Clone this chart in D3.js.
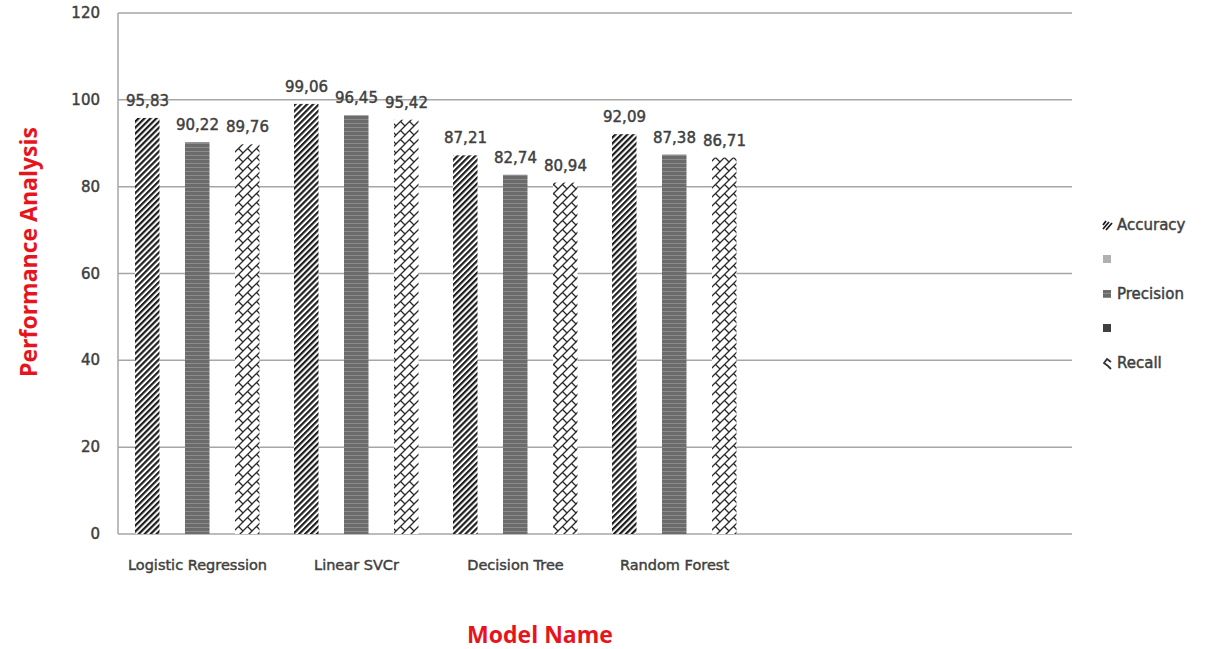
<!DOCTYPE html>
<html>
<head>
<meta charset="utf-8">
<script src="https://cdn.jsdelivr.net/npm/d3@7"></script>
<style>
  html, body { margin: 0; padding: 0; background: #fff; }
  svg { display: block; }
  .lbl { stroke: #404040; stroke-width: 0.45px; }
</style>
</head>
<body>
<svg id="chart" width="1208" height="649"></svg>
<script>
// ---------- data ----------
const categories = ["Logistic Regression", "Linear SVCr", "Decision Tree", "Random Forest", "", " "];
const seriesNames = ["Accuracy", "", "Precision", " ", "Recall"];
const accuracy  = [95.83, 99.06, 87.21, 92.09];
const blankA    = [];
const precision = [90.22, 96.45, 82.74, 87.38];
const blankB    = [];
const recall    = [89.76, 95.42, 80.94, 86.71];
const yTicks = [0, 20, 40, 60, 80, 100, 120];
const seriesValues = [accuracy, blankA, precision, blankB, recall];
const fmt = v => v.toFixed(2).replace(".", ",");

(function () {
// ---------- layout ----------
const svg = d3.select("#chart");
const pLeft = 118, pRight = 1072, pTop = 13, pBottom = 534;
const textColor = "#404040";
const font = "'DejaVu Sans', sans-serif";

// patterns
const defs = svg.append("defs");
const pA = defs.append("pattern").attr("id", "pAcc").attr("patternUnits", "userSpaceOnUse")
  .attr("width", 4.2).attr("height", 4.2).attr("patternTransform", "rotate(45)");
pA.append("rect").attr("width", 4.2).attr("height", 4.2).attr("fill", "#fff");
pA.append("rect").attr("width", 2.2).attr("height", 4.2).attr("fill", "#1e1e1e");

const pP = defs.append("pattern").attr("id", "pPrec").attr("patternUnits", "userSpaceOnUse")
  .attr("width", 4).attr("height", 4);
pP.append("rect").attr("width", 4).attr("height", 4).attr("fill", "#6b6b6b");
pP.append("rect").attr("y", 3).attr("width", 4).attr("height", 1).attr("fill", "#8c8c8c");

const pR = defs.append("pattern").attr("id", "pRec").attr("patternUnits", "userSpaceOnUse")
  .attr("width", 9).attr("height", 9);
pR.append("rect").attr("width", 9).attr("height", 9).attr("fill", "#fff");
pR.append("path").attr("d", "M-1,10 L10,-1 M4.5,4.5 L9.5,9.5 M-0.5,-0.5 L0.5,0.5")
  .attr("stroke", "#2a2a2a").attr("stroke-width", 1.3).attr("fill", "none");

const fills = ["url(#pAcc)", "#b0b0b0", "url(#pPrec)", "#404040", "url(#pRec)"];

// scales
const x0 = d3.scaleBand().domain(categories).range([pLeft, pRight]).paddingInner(0.214).paddingOuter(0.107);
const x1 = d3.scaleBand().domain(d3.range(seriesNames.length)).range([0, x0.bandwidth()]).padding(0);
const y = d3.scaleLinear().domain([0, 120]).range([pBottom, pTop]);

// gridlines
svg.append("g").selectAll("line").data(yTicks).join("line")
  .attr("x1", pLeft).attr("x2", pRight)
  .attr("y1", d => y(d)).attr("y2", d => y(d))
  .attr("stroke", "#a6a6a6").attr("stroke-width", 1.5);

// y axis line
svg.append("line").attr("x1", pLeft).attr("x2", pLeft).attr("y1", y(120)).attr("y2", y(0))
  .attr("stroke", "#a6a6a6").attr("stroke-width", 1.5);

// y tick labels
svg.append("g").selectAll("text").data(yTicks).join("text")
  .attr("class", "lbl")
  .attr("x", pLeft - 18).attr("y", d => y(d) + 5)
  .attr("text-anchor", "end")
  .attr("font-family", font).attr("font-size", 15).attr("fill", textColor)
  .text(d => d);

// bars
const bars = svg.append("g");
seriesValues.forEach((vals, si) => {
  bars.append("g").selectAll("rect").data(vals).join("rect")
    .attr("x", (d, i) => x0(categories[i]) + x1(si))
    .attr("width", x1.bandwidth() - 0.5)
    .attr("y", d => y(d))
    .attr("height", d => y(0) - y(d))
    .attr("fill", fills[si]);
  bars.append("g").selectAll("text").data(vals).join("text")
    .attr("class", "lbl")
    .attr("x", (d, i) => x0(categories[i]) + x1(si) + x1.bandwidth() / 2)
    .attr("y", d => y(d) - 12)
    .attr("text-anchor", "middle")
    .attr("font-family", font).attr("font-size", 15).attr("fill", textColor)
    .text(d => fmt(d));
});

// category labels
svg.append("g").selectAll("text").data(categories).join("text")
  .attr("class", "lbl")
  .attr("x", d => x0(d) + x0.bandwidth() / 2)
  .attr("y", 570)
  .attr("text-anchor", "middle")
  .attr("font-family", font).attr("font-size", 14.5).attr("fill", textColor)
  .text(d => d.trim());

// axis titles
svg.append("text").attr("x", 540).attr("y", 643).attr("text-anchor", "middle")
  .attr("font-family", "'Open Sans', sans-serif").attr("font-weight", "bold").attr("font-size", 23)
  .attr("fill", "#e8141c").text("Model Name");
svg.append("text").attr("transform", "translate(37,252) rotate(-90)").attr("text-anchor", "middle")
  .attr("font-family", "'Open Sans', sans-serif").attr("font-weight", "bold").attr("font-size", 23)
  .attr("fill", "#e8141c").text("Performance Analysis");

// legend
const legY = [225, 259, 294, 328, 363];
const leg = svg.append("g");
seriesNames.forEach((name, i) => {
  const g = leg.append("g").attr("transform", `translate(1103,${legY[i]})`);
  if (i === 4) {
    g.append("path").attr("d", "M8,-1 L4,-4 L1,0 L5,3 L8,6")
      .attr("stroke", "#333").attr("stroke-width", 1.8).attr("fill", "none");
  } else if (i === 0) {
    g.append("path").attr("d", "M0,4 L6,-3 M3,5 L9,-2 M0,0 L3,-4")
      .attr("stroke", "#1e1e1e").attr("stroke-width", 1.8).attr("fill", "none");
  } else {
    g.append("rect").attr("x", 0).attr("y", -4).attr("width", 8).attr("height", 8).attr("fill", fills[i]);
  }
  g.append("text").attr("class", "lbl").attr("x", 14).attr("y", 5)
    .attr("font-family", font).attr("font-size", 15).attr("fill", textColor)
    .text(name.trim());
});
})();
</script>
</body>
</html>
